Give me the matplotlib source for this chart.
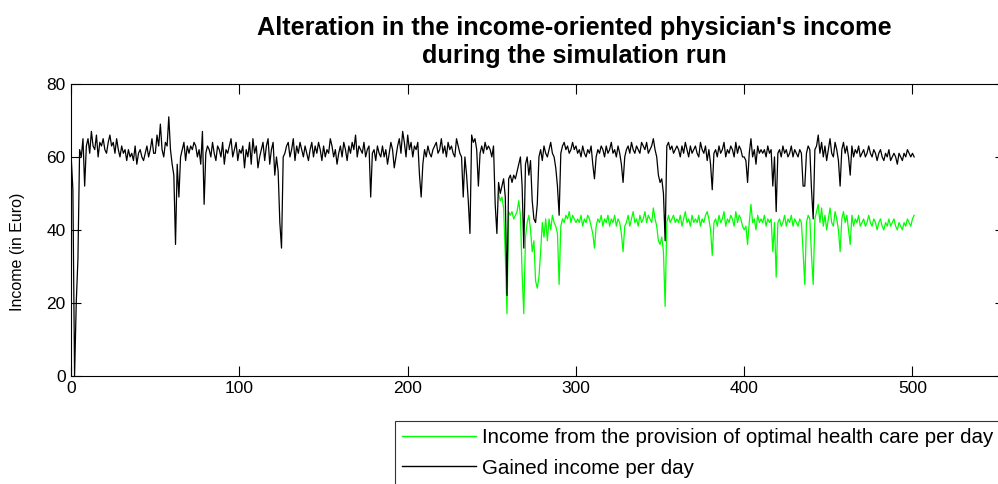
import numpy as np
import matplotlib
matplotlib.use("Agg")
import matplotlib.pyplot as plt

plt.rcParams['font.family'] = ['Liberation Sans', 'DejaVu Sans']

# Gained income per day (days 0..501), ten values per row
gained_income = [
    60, 51, 0, 20, 32, 62, 60, 65, 52, 63,
    65, 61, 67, 63, 62, 66, 60, 64, 63, 65,
    62, 61, 64, 66, 63, 64, 61, 65, 62, 60,
    63, 61, 62, 59, 62, 60, 61, 59, 63, 58,
    61, 62, 60, 59, 61, 63, 60, 62, 65, 61,
    61, 66, 63, 69, 62, 60, 64, 63, 71, 62,
    58, 55, 36, 58, 49, 60, 62, 64, 59, 63,
    61, 63, 62, 64, 63, 60, 62, 58, 67, 47,
    61, 63, 62, 60, 64, 61, 59, 63, 62, 60,
    64, 58, 62, 61, 63, 65, 60, 62, 64, 59,
    62, 61, 63, 57, 62, 60, 64, 58, 65, 61,
    63, 57, 60, 62, 64, 59, 63, 65, 58, 62,
    64, 55, 60, 56, 42, 35, 60, 61, 63, 64,
    60, 62, 65, 59, 63, 61, 64, 62, 60, 63,
    61, 59, 62, 64, 60, 63, 61, 64, 62, 59,
    63, 60, 62, 61, 65, 63, 60, 62, 58, 61,
    63, 60, 64, 62, 59, 63, 61, 64, 62, 66,
    60, 63, 62, 61, 64, 60, 62, 63, 49, 61,
    62, 59, 63, 61, 60, 63, 60, 62, 58, 61,
    64, 62, 57, 60, 63, 65, 61, 67, 64, 60,
    66, 62, 64, 60, 63, 62, 64, 55, 49, 58,
    62, 60, 63, 61, 60, 62, 63, 64, 61, 62,
    65, 61, 63, 60, 64, 62, 63, 61, 60, 65,
    63, 61, 60, 49, 60, 55, 48, 39, 66, 64,
    65, 62, 52, 61, 63, 61, 64, 62, 63, 62,
    60, 63, 47, 39, 53, 50, 52, 54, 49, 22,
    54, 55, 53, 55, 54, 56, 58, 60, 52, 35,
    58, 60, 55, 59, 48, 43, 42, 47, 60, 62,
    59, 63, 61, 60, 62, 64, 61, 60, 57, 52,
    44, 61, 63, 64, 62, 63, 61, 62, 64, 62,
    63, 61, 62, 60, 63, 61, 60, 62, 61, 63,
    58, 54, 60, 62, 61, 63, 62, 60, 63, 61,
    62, 64, 61, 62, 60, 63, 61, 58, 53, 60,
    62, 63, 61, 64, 62, 61, 63, 62, 61, 64,
    63, 62, 64, 61, 62, 63, 65, 62, 60, 55,
    53, 54, 50, 37, 63, 64, 62, 63, 61, 62,
    63, 62, 60, 63, 61, 64, 62, 60, 63, 61,
    62, 63, 61, 60, 64, 62, 61, 63, 59, 62,
    58, 51, 61, 62, 60, 63, 61, 62, 64, 60,
    62, 61, 63, 62, 60, 64, 61, 63, 62, 60,
    60, 59, 53, 61, 65, 60, 62, 58, 63, 61,
    62, 61, 62, 60, 63, 61, 62, 52, 60, 45,
    61, 62, 60, 63, 61, 62, 60, 61, 63, 60,
    62, 61, 60, 62, 61, 52, 52, 61, 63, 62,
    51, 43, 62, 63, 66, 61, 64, 60, 63, 59,
    62, 65, 61, 60, 64, 62, 59, 52, 62, 64,
    61, 63, 60, 55, 63, 60, 62, 61, 63, 60,
    61, 62, 60, 61, 63, 61, 60, 62, 61, 59,
    61, 62, 60, 59, 61, 60, 62, 59, 60, 61,
    60, 58, 61, 60, 59, 61, 60, 62, 61, 60,
    61, 60,
]

# Income from optimal health care per day, recorded from day 254 onward
optimal_start_day = 254
optimal_income = [
    50, 48, 49, 46, 33, 17,
    45, 44, 45, 43, 44, 45, 48, 44, 28, 17,
    38, 42, 44, 40, 34, 37, 26, 24, 27, 34,
    42, 38, 43, 37, 43, 40, 44, 42, 41, 39,
    25, 41, 43, 42, 44, 43, 45, 42, 44, 43,
    42, 43, 42, 44, 41, 43, 42, 44, 43, 41,
    39, 35, 41, 43, 42, 44, 41, 43, 42, 44,
    41, 43, 42, 44, 41, 43, 42, 39, 34, 41,
    42, 44, 41, 43, 45, 42, 43, 41, 44, 42,
    43, 45, 42, 44, 43, 42, 46, 43, 41, 37,
    36, 38, 34, 19, 42, 44, 42, 43, 44, 42,
    43, 42, 44, 41, 43, 45, 42, 43, 41, 44,
    42, 43, 42, 44, 41, 43, 42, 44, 45, 43,
    40, 33, 42, 43, 41, 44, 42, 43, 45, 41,
    43, 42, 44, 43, 41, 45, 42, 44, 43, 41,
    40, 41, 36, 42, 47, 42, 43, 40, 44, 42,
    43, 42, 44, 41, 43, 42, 43, 34, 42, 27,
    42, 43, 41, 42, 44, 41, 43, 42, 44, 41,
    43, 42, 41, 43, 42, 34, 25, 42, 44, 43,
    33, 25, 43, 45, 47, 42, 46, 41, 44, 40,
    43, 46, 42, 41, 45, 43, 40, 34, 43, 45,
    42, 44, 40, 36, 44, 41, 43, 42, 44, 41,
    42, 43, 41, 42, 44, 42, 41, 43, 42, 40,
    42, 43, 41, 40, 42, 41, 43, 41, 42, 43,
    41, 40, 42, 41, 40, 42, 41, 43, 42, 41,
    43, 44,
]

x_ticks = [0, 100, 200, 300, 400, 500]
y_ticks = [0, 20, 40, 60, 80]

title_text = "Alteration in the income-oriented physician's income\nduring the simulation run"
y_label = "Income (in Euro)"
label_optimal = "Income from the provision of optimal health care per day"
label_gained = "Gained income per day"

W, H = 998, 484
fig = plt.figure(figsize=(W / 100, H / 100), dpi=100)
ax = fig.add_axes([71.2 / W, 1 - 375.7 / H, (1005 - 71.2) / W, (375.7 - 84) / H])

days_gained = np.arange(len(gained_income))
days_optimal = np.arange(len(optimal_income)) + optimal_start_day

line_opt, = ax.plot(days_optimal, optimal_income, color=(0, 1, 0), lw=0.9)
line_gain, = ax.plot(days_gained, gained_income, color='black', lw=0.9)

ax.set_xlim(0, 555)
ax.set_ylim(0, 80)
ax.set_xticks(x_ticks)
ax.set_yticks(y_ticks)
ax.tick_params(direction='in', length=7, width=0.8, top=True, right=True,
               labelsize=12.5, pad=4)
for s in ax.spines.values():
    s.set_linewidth(0.8)

fig.text(18 / W, 1 - 252 / H, y_label, rotation=90, ha='center', va='center',
         fontsize=11.5)

fig.text(574.5 / W, 1 - 42 / H, title_text, ha='center', va='center',
         fontsize=18.2, fontweight='bold', linespacing=1.2)

leg = fig.legend([line_opt, line_gain], [label_optimal, label_gained],
                 loc='upper left', bbox_to_anchor=(395 / W, 1 - 421 / H),
                 fontsize=14.8, frameon=True, fancybox=False, shadow=False,
                 borderaxespad=0, borderpad=0.35, handlelength=3.6,
                 handletextpad=0.3, labelspacing=0.55)
leg.get_frame().set_edgecolor('black')
leg.get_frame().set_linewidth(0.8)
for h in leg.get_lines():
    h.set_linewidth(1.0)

fig.savefig("out.png", dpi=100)
